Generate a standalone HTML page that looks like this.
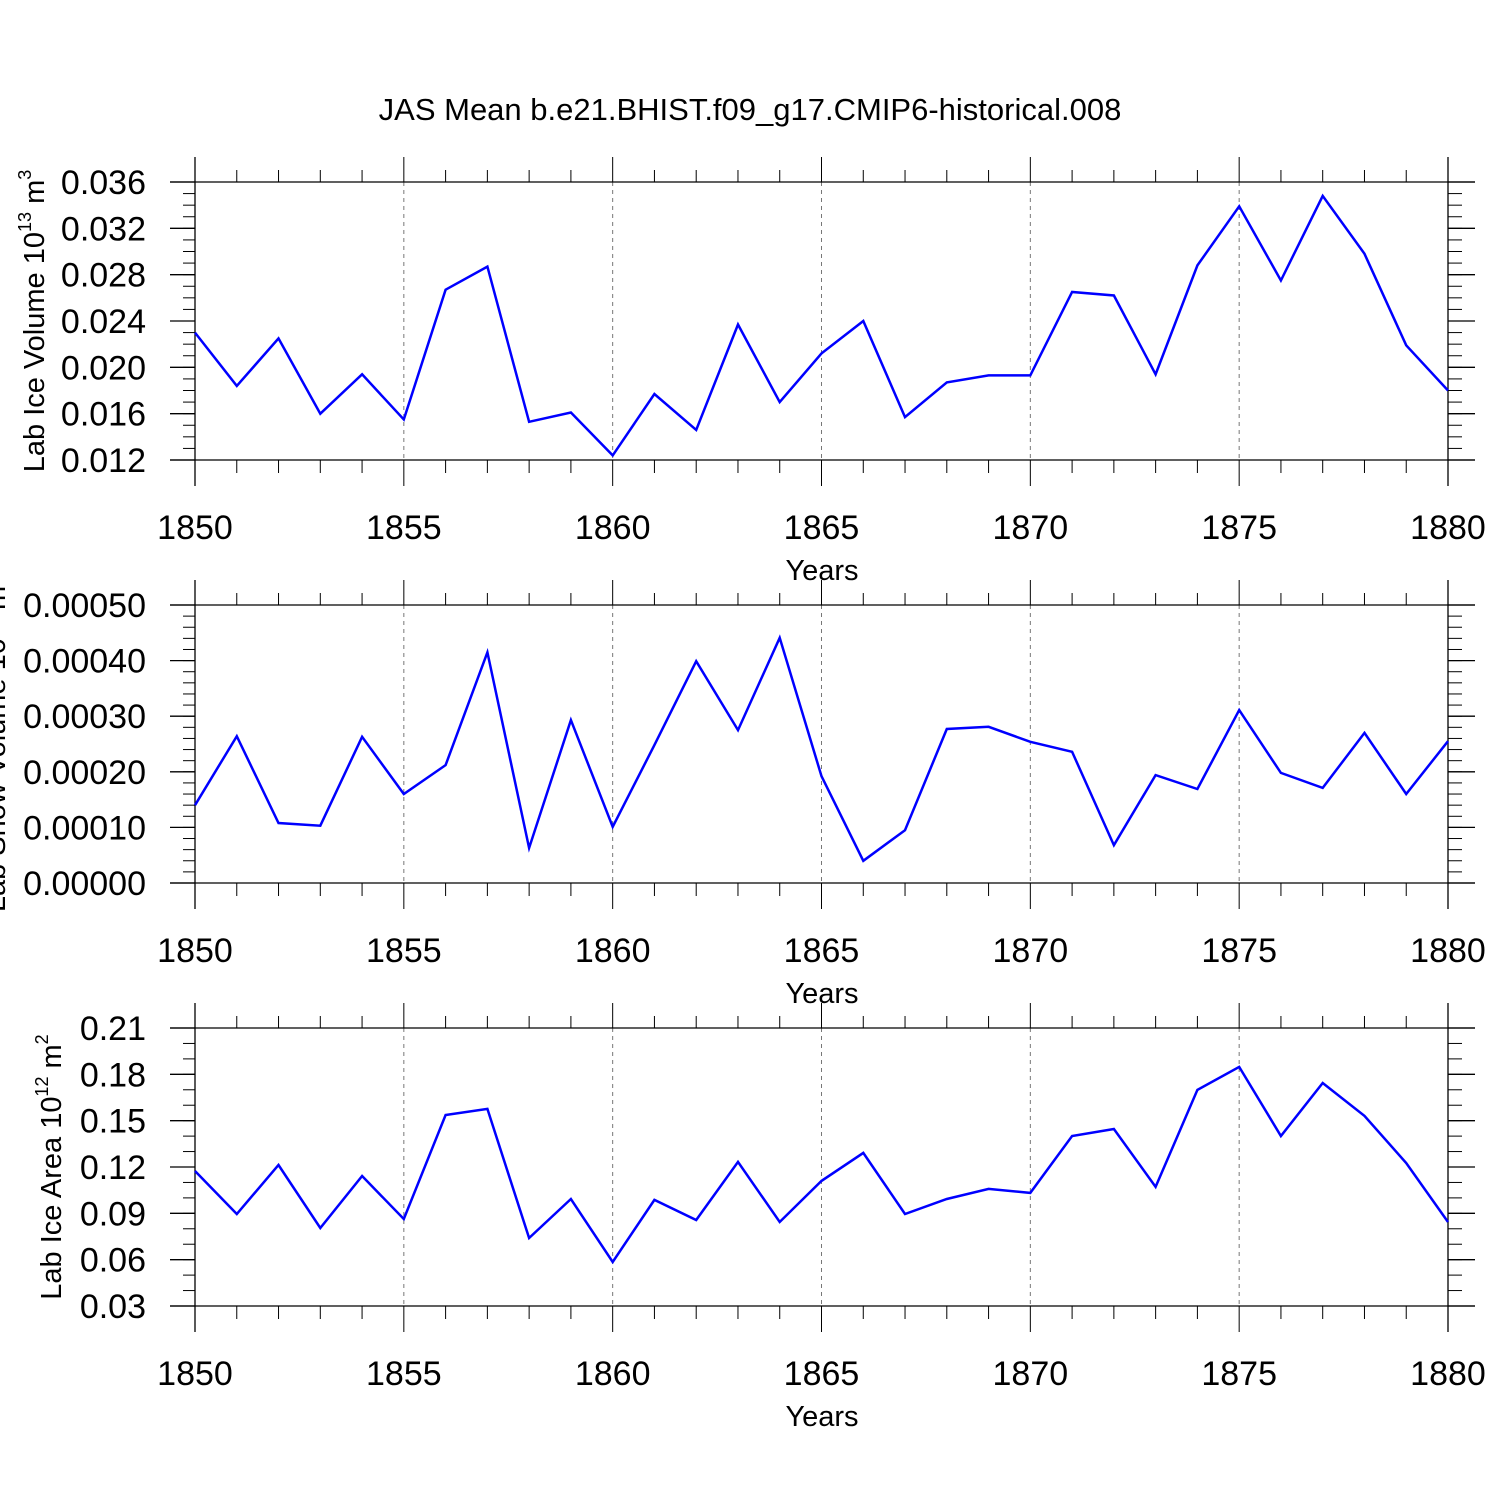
<!DOCTYPE html>
<html><head><meta charset="utf-8"><style>
html,body{margin:0;padding:0;background:#fff;}
svg{display:block;font-family:"Liberation Sans",Arial,sans-serif;}
</style></head><body>
<svg id="chart" width="1500" height="1500" viewBox="0 0 1500 1500" xmlns="http://www.w3.org/2000/svg">
<text x="750" y="120" font-size="31" text-anchor="middle">JAS Mean b.e21.BHIST.f09_g17.CMIP6-historical.008</text>
</svg>
<script>
const years = [];
for (let y = 1850; y <= 1880; y++) years.push(y);
const iceVolume = [0.0230,0.0184,0.0225,0.0160,0.0194,0.0155,0.0267,0.0287,0.0153,0.0161,0.0124,0.0177,0.0146,0.0237,0.0170,0.0212,0.0240,0.0157,0.0187,0.0193,0.0193,0.0265,0.0262,0.0194,0.0288,0.0339,0.0275,0.0348,0.0298,0.0219,0.0180];
const snowVolume = [0.000140,0.000264,0.000108,0.000103,0.000263,0.000160,0.000212,0.000415,0.000063,0.000293,0.000101,0.000248,0.000399,0.000275,0.000441,0.000192,0.000040,0.000095,0.000277,0.000281,0.000254,0.000236,0.000068,0.000194,0.000169,0.000311,0.000198,0.000171,0.000270,0.000160,0.000255];
const iceArea = [0.1174,0.0896,0.1213,0.0805,0.1142,0.0863,0.1537,0.1576,0.0740,0.0993,0.0585,0.0987,0.0857,0.1233,0.0844,0.1110,0.1291,0.0896,0.0993,0.1058,0.1032,0.1401,0.1446,0.1071,0.1699,0.1848,0.1401,0.1744,0.1531,0.1226,0.0844];
const xTicks = [1850,1855,1860,1865,1870,1875,1880];
const iceVolTicks = ["0.012","0.016","0.020","0.024","0.028","0.032","0.036"];
const snowTicks = ["0.00000","0.00010","0.00020","0.00030","0.00040","0.00050"];
const areaTicks = ["0.03","0.06","0.09","0.12","0.15","0.18","0.21"];

const NS = "http://www.w3.org/2000/svg";
const svg = document.getElementById('chart');
const X0 = 195, X1 = 1448;
function xs(yr){ return X0 + (yr-1850)/30*(X1-X0); }
function mk(tag, attrs, parent){
  const e = document.createElementNS(NS, tag);
  for (const k in attrs) e.setAttribute(k, attrs[k]);
  (parent||svg).appendChild(e);
  return e;
}
function panel(name, top, ymin, ymax, majorStep, minorStep, tickLabels, data, labelHTML, labelX){
  const bot = top + 278;
  const g = mk('g', {});
  
  
  const ys = v => bot - (v-ymin)/(ymax-ymin)*278;
  for (const t of xTicks) {
    if (t === 1850 || t === 1880) continue;
    const l = mk('line', {x1:xs(t), x2:xs(t), y1:top, y2:bot, stroke:'#777', 'stroke-width':1, 'stroke-dasharray':'4,4'}, g);
    
    
  }
  mk('line', {x1:170, x2:1475, y1:top, y2:top, stroke:'#000', 'stroke-width':1.3}, g);
  mk('line', {x1:170, x2:1475, y1:bot, y2:bot, stroke:'#000', 'stroke-width':1.3}, g);
  mk('line', {x1:X0, x2:X0, y1:top-25, y2:bot+26, stroke:'#000', 'stroke-width':1.3}, g);
  mk('line', {x1:X1, x2:X1, y1:top-25, y2:bot+26, stroke:'#000', 'stroke-width':1.3}, g);
  for (let yr = 1850; yr <= 1880; yr++) {
    const x = xs(yr);
    const major = yr % 5 === 0;
    mk('line', {x1:x, x2:x, y1:top-(major?25:12), y2:top, stroke:'#000', 'stroke-width':1}, g);
    mk('line', {x1:x, x2:x, y1:bot, y2:bot+(major?26:13), stroke:'#000', 'stroke-width':1}, g);
  }
  for (const t of xTicks) {
    const tx = mk('text', {x:xs(t), y:bot+79, 'font-size':34, 'text-anchor':'middle'}, g);
    tx.textContent = t;
    
    
  }
  const xt = mk('text', {x:822, y:bot+120, 'font-size':29, 'text-anchor':'middle'}, g);
  xt.textContent = 'Years';
  
  
  const nMinor = Math.round((ymax-ymin)/minorStep);
  for (let i = 0; i <= nMinor; i++) {
    const y = bot - i/nMinor*278;
    mk('line', {x1:183, x2:X0, y1:y, y2:y, stroke:'#000', 'stroke-width':1}, g);
    mk('line', {x1:X1, x2:1462, y1:y, y2:y, stroke:'#000', 'stroke-width':1}, g);
  }
  for (let i = 0; i < tickLabels.length; i++) {
    const v = ymin + i*majorStep;
    const y = ys(v);
    mk('line', {x1:170, x2:X0, y1:y, y2:y, stroke:'#000', 'stroke-width':1.3}, g);
    mk('line', {x1:X1, x2:1475, y1:y, y2:y, stroke:'#000', 'stroke-width':1.3}, g);
    const tl = mk('text', {x:146, y:y+12, 'font-size':34, 'text-anchor':'end'}, g);
    tl.textContent = tickLabels[i];
    
    
  }
  const yl = mk('text', {x:0, y:0, 'font-size':29, 'text-anchor':'middle', transform:`translate(${labelX},${(top+bot)/2}) rotate(-90)`}, g);
  yl.innerHTML = labelHTML;
  
  
  const pts = data.map((v,i) => xs(years[i]).toFixed(1)+','+ys(v).toFixed(1)).join(' ');
  const pl = mk('polyline', {points:pts, fill:'none', stroke:'#0000ff', 'stroke-width':2.5, 'stroke-linejoin':'miter'}, g);
  
  
}
panel('ice-volume', 182, 0.012, 0.036, 0.004, 0.001, iceVolTicks, iceVolume,
  'Lab Ice Volume 10<tspan font-size="18" dy="-13">13</tspan><tspan dy="13"> m</tspan><tspan font-size="18" dy="-13">3</tspan>', 44);
panel('snow-volume', 605, 0, 0.0005, 0.0001, 0.00002, snowTicks, snowVolume,
  'Lab Snow Volume 10<tspan font-size="18" dy="-13">13</tspan><tspan dy="13"> m</tspan><tspan font-size="18" dy="-13">3</tspan>', 5);
panel('ice-area', 1028, 0.03, 0.21, 0.03, 0.01, areaTicks, iceArea,
  'Lab Ice Area 10<tspan font-size="18" dy="-13">12</tspan><tspan dy="13"> m</tspan><tspan font-size="18" dy="-13">2</tspan>', 61);
</script>
</body></html>
